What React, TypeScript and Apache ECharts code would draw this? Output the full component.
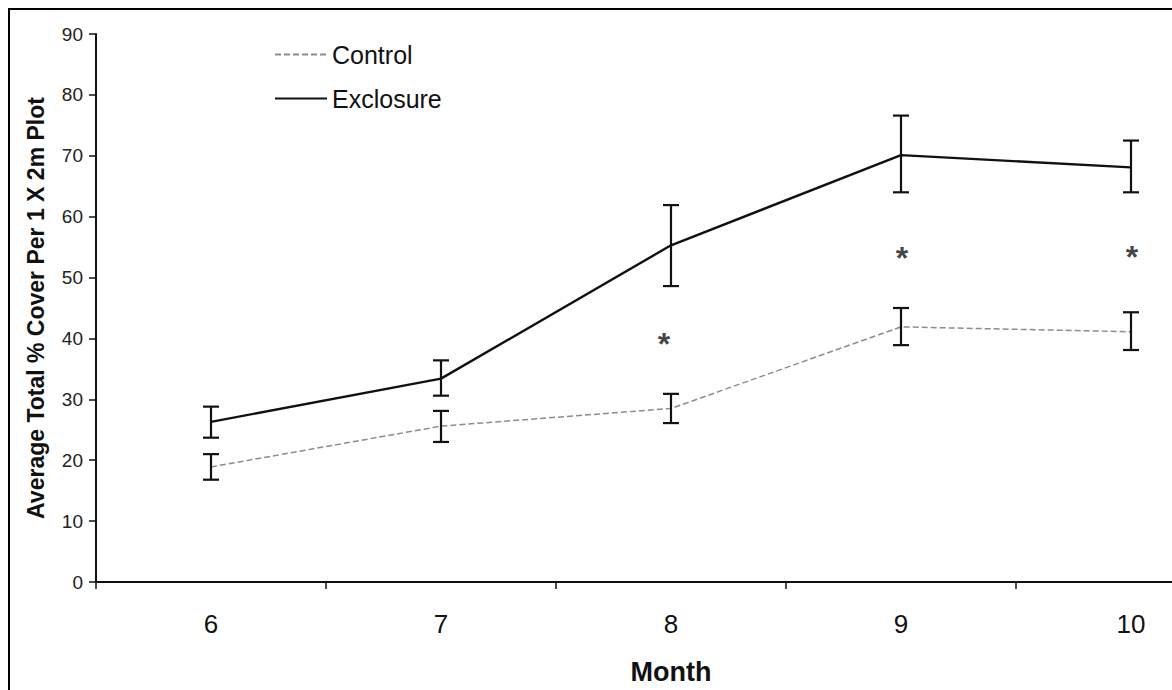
import React, { useEffect, useRef } from "react";
import * as echarts from "echarts";

const months = ["6", "7", "8", "9", "10"];
const controlMean = [18.9, 25.6, 28.5, 41.9, 41.1];
const controlLow = [16.8, 23.0, 26.1, 38.9, 38.1];
const controlHigh = [21.0, 28.1, 30.9, 45.0, 44.3];
const exclosureMean = [26.3, 33.4, 55.3, 70.1, 68.1];
const exclosureLow = [23.7, 30.6, 48.6, 64.0, 64.0];
const exclosureHigh = [28.8, 36.4, 61.9, 76.6, 72.5];
const asteriskMonths = ["8", "9", "10"];
const asteriskValues = [40.2, 54.3, 54.5];
const yTicks = { min: 0, max: 90, interval: 10 };

const FONT = "'Liberation Sans', Arial, sans-serif";

function errorBarSeries(low: number[], high: number[]) {
  return {
    type: "custom",
    name: "err",
    silent: true,
    z: 5,
    data: months.map((_, i) => [i, low[i], high[i]]),
    renderItem: (params: any, api: any) => {
      const x = api.value(0);
      const lo = api.coord([x, api.value(1)]);
      const hi = api.coord([x, api.value(2)]);
      const hw = 8;
      const style = { stroke: "#111", lineWidth: 2.2 };
      return {
        type: "group",
        children: [
          { type: "line", shape: { x1: lo[0], y1: lo[1], x2: hi[0], y2: hi[1] }, style },
          { type: "line", shape: { x1: lo[0] - hw, y1: lo[1], x2: lo[0] + hw, y2: lo[1] }, style },
          { type: "line", shape: { x1: hi[0] - hw, y1: hi[1], x2: hi[0] + hw, y2: hi[1] }, style },
        ],
      };
    },
  };
}

export default function App() {
  const ref = useRef<HTMLDivElement>(null);
  useEffect(() => {
    if (!ref.current) return;
    const chart = echarts.init(ref.current, null, { renderer: "svg" });
    chart.setOption({
      animation: false,
      backgroundColor: "#fff",
      textStyle: { fontFamily: FONT },
      graphic: [
        { type: "line", shape: { x1: 8, y1: 9, x2: 1246, y2: 9 }, style: { stroke: "#000", lineWidth: 2 } },
        { type: "line", shape: { x1: 9, y1: 8, x2: 9, y2: 690 }, style: { stroke: "#000", lineWidth: 2 } },
      ],
      legend: {
        data: ["Control", "Exclosure"],
        orient: "vertical",
        left: 274,
        top: 42,
        itemWidth: 52,
        itemHeight: 26,
        itemGap: 19,
        itemStyle: { opacity: 0 },
        padding: 0,
        textStyle: { fontSize: 25, color: "#111", fontFamily: FONT },
      },
      grid: { left: 96, top: 34, bottom: 107, right: 0 },
      xAxis: {
        type: "category",
        data: months,
        boundaryGap: true,
        name: "Month",
        nameLocation: "middle",
        nameGap: 76,
        nameTextStyle: { fontSize: 27, fontWeight: "bold", color: "#111", fontFamily: FONT },
        axisLine: { lineStyle: { color: "#111", width: 2 } },
        axisTick: { show: true, length: 7, inside: false, lineStyle: { color: "#111", width: 1.5 } },
        axisLabel: { fontSize: 26, color: "#111", margin: 29, fontFamily: FONT },
      },
      yAxis: {
        type: "value",
        min: yTicks.min,
        max: yTicks.max,
        interval: yTicks.interval,
        name: "Average Total % Cover Per 1 X 2m Plot",
        nameLocation: "middle",
        nameGap: 49,
        nameTextStyle: { fontSize: 23, fontWeight: "bold", color: "#111", fontFamily: FONT },
        axisLine: { show: true, lineStyle: { color: "#111", width: 2 } },
        axisTick: { show: true, length: 7, lineStyle: { color: "#111", width: 1.5 } },
        axisLabel: { fontSize: 19, color: "#222", margin: 13, fontFamily: FONT },
        splitLine: { show: false },
      },
      series: [
        {
          name: "Control",
          type: "line",
          data: controlMean,
          symbol: "none",
          lineStyle: { color: "#8c8c8c", width: 1.5, type: [6, 3] },
          itemStyle: { color: "#8c8c8c" },
          z: 3,
        },
        {
          name: "Exclosure",
          type: "line",
          data: exclosureMean,
          symbol: "none",
          lineStyle: { color: "#111", width: 2.4, type: "solid" },
          itemStyle: { color: "#111" },
          z: 4,
        },
        errorBarSeries(controlLow, controlHigh),
        errorBarSeries(exclosureLow, exclosureHigh),
        {
          type: "scatter",
          name: "sig",
          silent: true,
          symbolSize: 1,
          itemStyle: { color: "rgba(0,0,0,0)" },
          data: asteriskMonths.map((m, i) => ({
            value: [m, asteriskValues[i]],
            label: { offset: i === 0 ? [-7, 7] : [1, 7] },
          })),
          label: {
            show: true,
            position: "inside",
            formatter: "*",
            fontSize: 32,
            fontWeight: "bold",
            color: "#111",
            fontFamily: FONT,
          },
        },
      ],
    });
    return () => chart.dispose();
  }, []);
  return (
    <div style={{ position: "fixed", left: 0, top: 0, width: 1172, height: 690, overflow: "hidden" }}>
      <div ref={ref} style={{ width: 1246, height: 690 }} />
    </div>
  );
}
